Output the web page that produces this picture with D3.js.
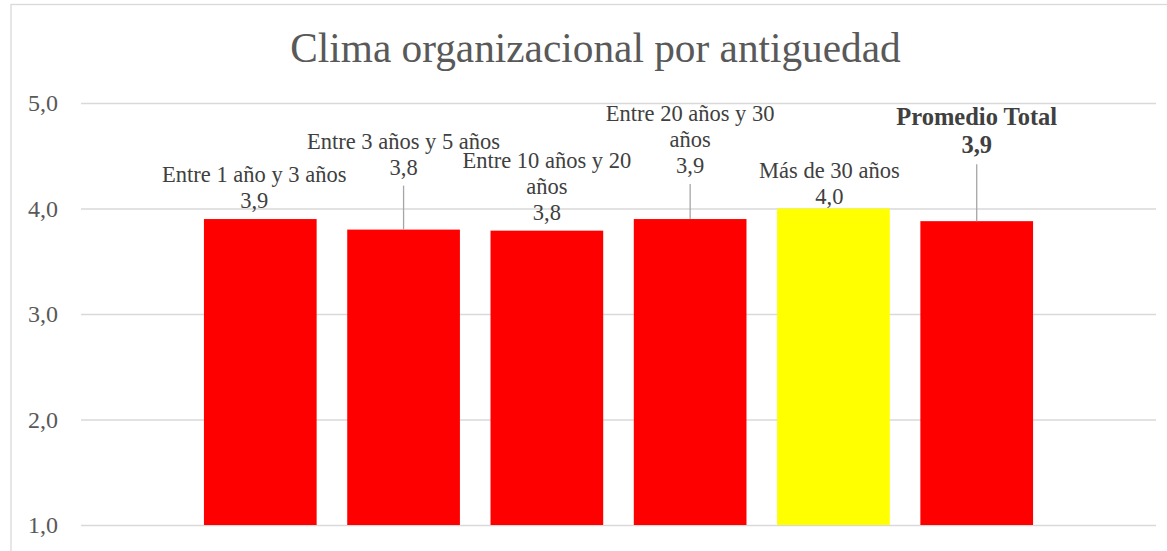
<!DOCTYPE html>
<html>
<head>
<meta charset="utf-8">
<script src="https://cdn.jsdelivr.net/npm/d3@7"></script>
<style>
  html, body { margin: 0; padding: 0; background: #fff; }
  svg { display: block; }
  text { font-family: "Liberation Serif", "Times New Roman", serif; }
</style>
</head>
<body>
<svg id="chart" width="1167" height="551"></svg>
<script>
// ---- data ----
const categories = ["Entre 1 año y 3 años", "Entre 3 años y 5 años", "Entre 10 años y 20 años",
                    "Entre 20 años y 30 años", "Más de 30 años", "Promedio Total"];
const values = [3.90, 3.80, 3.79, 3.90, 4.00, 3.88];
const valueLabels = ["3,9", "3,8", "3,8", "3,9", "4,0", "3,9"];
const barColors = ["#ff0000", "#ff0000", "#ff0000", "#ff0000", "#ffff00", "#ff0000"];
const yTicks = [1, 2, 3, 4, 5];
const title = "Clima organizacional por antiguedad";

// ---- layout (label placement, pixels) ----
const labelLift = [11, 55, 11, 46, 5, 68];
const labelDx = [-6, 0, 0, 0, -4, 0];
const labelBold = [false, false, false, false, false, true];

const svg = d3.select("#chart");
const plot = { left: 81, right: 1156, top: 103, bottom: 525 };

// chart border
svg.append("rect").attr("x", 11).attr("y", 4.5).attr("width", 1180).attr("height", 600)
  .attr("fill", "#fff").attr("stroke", "#d9d9d9").attr("stroke-width", 1.3);

const x = d3.scaleBand().domain(categories).range([plot.left, plot.right])
  .paddingInner(0.2135).paddingOuter(0.858);
const y = d3.scaleLinear().domain([1, 5]).range([plot.bottom, plot.top]);

// title
svg.append("text").attr("x", 595.5).attr("y", 61.5).attr("text-anchor", "middle")
  .attr("font-size", 41.3).attr("fill", "#595959").text(title);

// gridlines + tick labels via axis
const yAxis = d3.axisLeft(y).tickValues(yTicks)
  .tickSize(-(plot.right - plot.left)).tickPadding(23)
  .tickFormat(d => d3.format(".1f")(d).replace(".", ","));
const gy = svg.append("g").attr("transform", `translate(${plot.left},0)`).call(yAxis);
gy.select(".domain").remove();
gy.selectAll(".tick line").attr("stroke", "#d9d9d9").attr("stroke-width", 1.5);
gy.selectAll(".tick text").attr("font-size", 24).attr("fill", "#595959")
  .attr("font-family", "Liberation Serif, serif").attr("dy", "0.32em");

// bars
svg.append("g").selectAll("rect").data(categories).join("rect")
  .attr("x", d => x(d)).attr("width", x.bandwidth())
  .attr("y", (d, i) => y(values[i])).attr("height", (d, i) => y(1) - y(values[i]))
  .attr("fill", (d, i) => barColors[i]);

// data labels
const lineH = 26;
const maxW = 205;
const lg = svg.append("g");
categories.forEach((c, i) => {
  const cx = x(c) + x.bandwidth() / 2;
  const top = y(values[i]);
  const baseV = top - labelLift[i];
  const fs = labelBold[i] ? 24.5 : 22.5;
  const fw = labelBold[i] ? "bold" : "normal";
  const lh = labelBold[i] ? 28 : lineH;
  // wrap category name
  const words = c.split(" ");
  const lines = [];
  const tmp = lg.append("text").attr("font-size", fs).attr("font-weight", fw);
  let cur = "";
  words.forEach(w => {
    const test = cur ? cur + " " + w : w;
    tmp.text(test);
    if (tmp.node().getComputedTextLength() > maxW && cur) { lines.push(cur); cur = w; }
    else cur = test;
  });
  lines.push(cur);
  tmp.remove();
  const all = lines.concat([valueLabels[i]]);
  const t = lg.append("text").attr("text-anchor", "middle").attr("font-size", fs)
    .attr("font-weight", fw).attr("fill", "#404040");
  all.forEach((ln, k) => {
    t.append("tspan").attr("x", cx + labelDx[i])
      .attr("y", baseV - (all.length - 1 - k) * lh).text(ln);
  });
  if (labelLift[i] > 20) {
    lg.append("line").attr("x1", cx).attr("x2", cx)
      .attr("y1", baseV + 11).attr("y2", top)
      .attr("stroke", "#a6a6a6").attr("stroke-width", 1.3);
  }
});
</script>
</body>
</html>
